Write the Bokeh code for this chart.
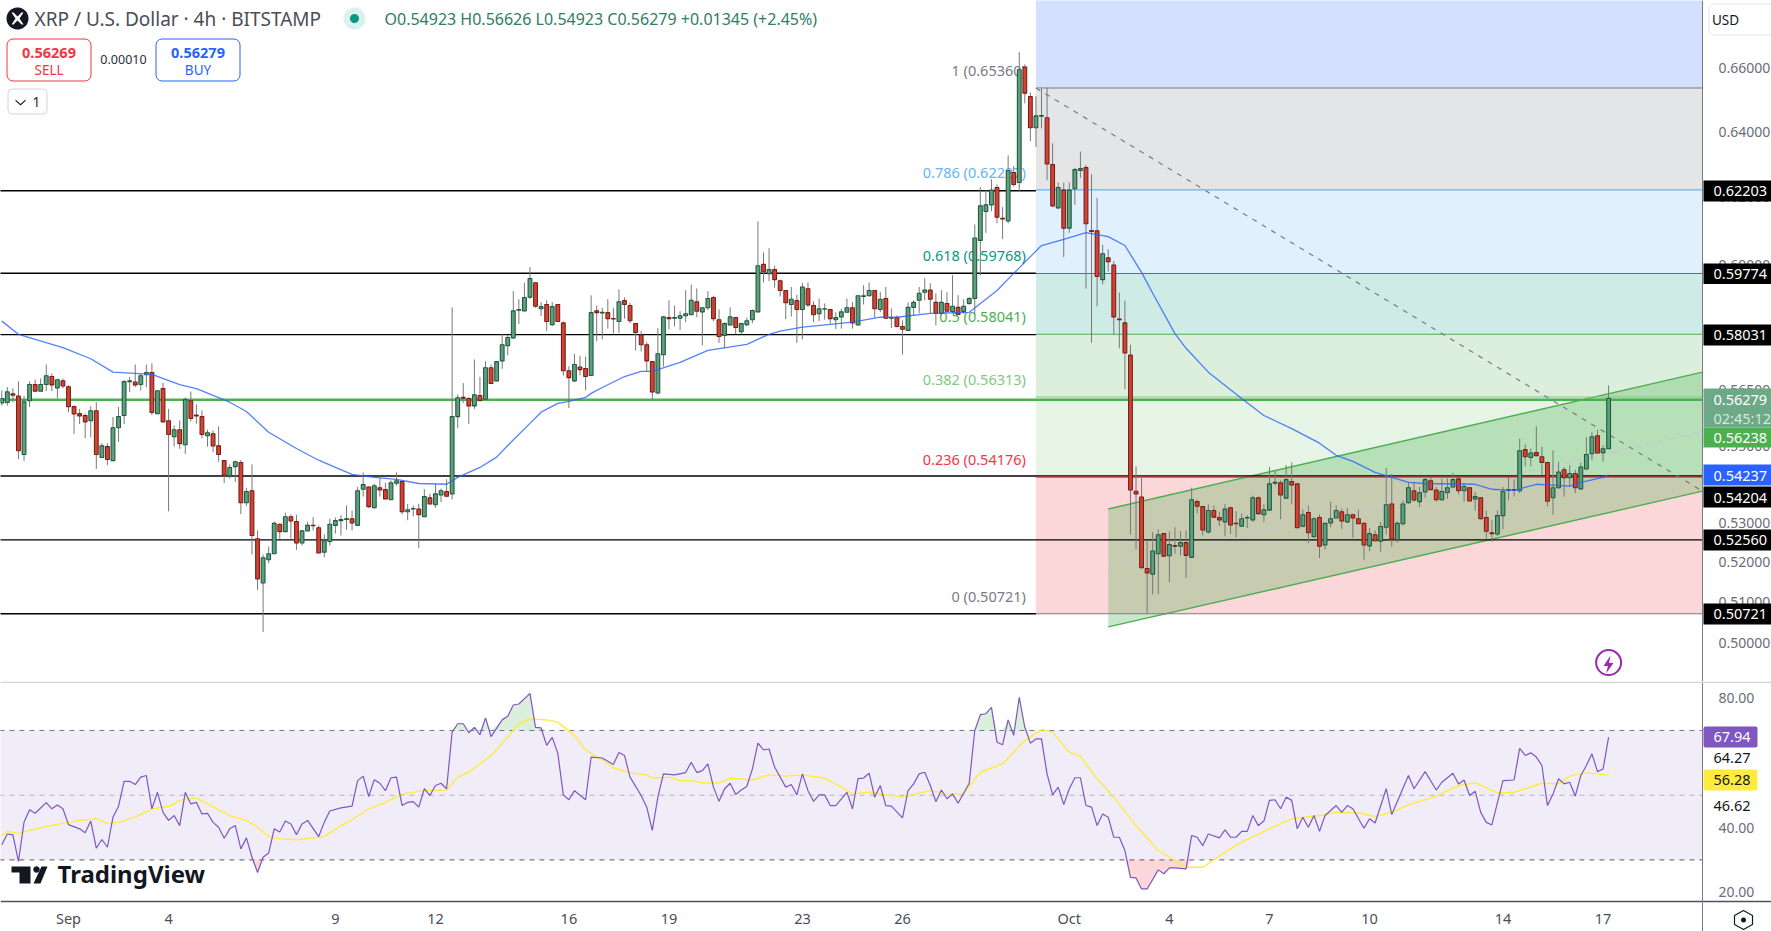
from bokeh.plotting import figure
from bokeh.layouts import column
from bokeh.core.properties import value
from bokeh.models import (Label, BoxAnnotation, PolyAnnotation, Range1d, FixedTicker,
                          PrintfTickFormatter)
from bokeh.embed import file_html
from bokeh.resources import INLINE
import numpy as np

highs = [
.5649,.5658,.5655,.5674,.5634,.5674,.5679,.5682,.5720,.5695,
.5681,.5681,.5663,.5608,.5599,.5586,.5606,.5617,.5507,.5507,
.5577,.5604,.5677,.5686,.5720,.5695,.5720,.5723,.5649,.5670,
.5599,.5554,.5568,.5630,.5646,.5611,.5595,.5543,.5541,.5552,
.5462,.5451,.5461,.5462,.5390,.5451,.5280,.5219,.5239,.5303,
.5298,.5326,.5321,.5320,.5280,.5302,.5314,.5293,.5270,.5310,
.5313,.5319,.5344,.5331,.5392,.5430,.5393,.5400,.5415,.5403,
.5409,.5430,.5406,.5348,.5344,.5348,.5386,.5374,.5399,.5388,
.5412,.5880,.5638,.5669,.5631,.5734,.5686,.5729,.5720,.5729,
.5805,.5802,.5926,.5903,.5950,.5995,.5950,.5895,.5900,.5895,
.5888,.5840,.5715,.5750,.5744,.5742,.5914,.5885,.5879,.5903,
.5879,.5931,.5908,.5893,.5836,.5813,.5782,.5728,.5821,.5854,
.5900,.5885,.5869,.5929,.5945,.5934,.5880,.5926,.5913,.5874,
.5838,.5880,.5851,.5834,.5851,.5874,.6129,.6038,.6050,.5999,
.5959,.5929,.5938,.5916,.5950,.5951,.5897,.5905,.5891,.5876,
.5866,.5876,.5905,.5895,.5914,.5943,.5951,.5929,.5924,.5938,
.5877,.5857,.5843,.5894,.5900,.5938,.5963,.5949,.5920,.5929,
.5923,.5972,.5915,.5903,.5909,.6120,.6231,.6222,.6255,.6239,
.6171,.6327,.6295,.6650,.6611,.6522,.6510,.6534,.6538,.6364,
.6245,.6245,.6245,.6289,.6339,.6298,.6270,.6199,.6060,.6047,
.6013,.5922,.5899,.5775,.5446,.5420,.5255,.5276,.5283,.5272,
.5278,.5288,.5278,.5280,.5390,.5359,.5341,.5347,.5344,.5328,
.5348,.5341,.5329,.5323,.5319,.5369,.5368,.5347,.5444,.5433,
.5409,.5449,.5456,.5401,.5334,.5344,.5313,.5321,.5299,.5354,
.5344,.5336,.5338,.5323,.5333,.5299,.5286,.5280,.5302,.5442,
.5426,.5304,.5357,.5405,.5404,.5392,.5420,.5418,.5392,.5413,
.5415,.5429,.5416,.5402,.5392,.5379,.5365,.5331,.5306,.5331,
.5392,.5418,.5412,.5519,.5504,.5493,.5552,.5498,.5458,.5488,
.5458,.5444,.5449,.5437,.5456,.5523,.5536,.5543,.5501,.56626]

body_tops = [
.5627,.5645,.5640,.5634,.5618,.5665,.5665,.5665,.5689,.5687,
.5678,.5675,.5659,.5605,.5586,.5581,.5594,.5594,.5500,.5498,
.5548,.5578,.5673,.5675,.5672,.5689,.5698,.5698,.5648,.5654,
.5567,.5543,.5543,.5624,.5621,.5582,.5578,.5535,.5532,.5500,
.5461,.5443,.5458,.5456,.5380,.5382,.5259,.5211,.5221,.5298,
.5296,.5315,.5315,.5303,.5279,.5293,.5293,.5287,.5254,.5296,
.5305,.5308,.5310,.5310,.5382,.5398,.5392,.5395,.5390,.5385,
.5403,.5408,.5406,.5333,.5336,.5335,.5367,.5364,.5374,.5382,
.5380,.5578,.5629,.5630,.5627,.5637,.5635,.5711,.5711,.5728,
.5775,.5795,.5870,.5874,.5908,.5962,.5950,.5882,.5888,.5882,
.5888,.5836,.5703,.5720,.5713,.5709,.5865,.5870,.5866,.5865,
.5848,.5896,.5899,.5885,.5834,.5802,.5775,.5728,.5750,.5853,
.5851,.5851,.5856,.5862,.5900,.5896,.5879,.5905,.5908,.5845,
.5834,.5853,.5851,.5834,.5842,.5871,.5999,.6003,.5988,.5988,
.5956,.5928,.5903,.5899,.5938,.5933,.5885,.5876,.5876,.5874,
.5851,.5867,.5879,.5879,.5913,.5913,.5928,.5928,.5903,.5905,
.5851,.5851,.5826,.5880,.5894,.5920,.5929,.5929,.5894,.5894,
.5891,.5883,.5880,.5883,.5905,.6080,.6175,.6178,.6222,.6230,
.6138,.6281,.6275,.6594,.6603,.6509,.6449,.6450,.6443,.6299,
.6230,.6222,.6222,.6284,.6287,.6290,.6102,.6101,.6034,.6022,
.6001,.5847,.5836,.5746,.5381,.5366,.5184,.5228,.5269,.5272,
.5244,.5242,.5249,.5249,.5359,.5354,.5341,.5331,.5331,.5313,
.5335,.5338,.5298,.5310,.5313,.5364,.5364,.5333,.5400,.5404,
.5403,.5411,.5406,.5400,.5320,.5326,.5310,.5313,.5298,.5310,
.5331,.5328,.5320,.5320,.5310,.5298,.5272,.5269,.5290,.5346,
.5348,.5298,.5348,.5390,.5382,.5377,.5411,.5408,.5384,.5380,
.5390,.5411,.5413,.5393,.5390,.5367,.5364,.5313,.5274,.5318,
.5380,.5385,.5385,.5487,.5490,.5481,.5482,.5471,.5456,.5390,
.5431,.5437,.5427,.5427,.5444,.5477,.5524,.5527,.5492,.56279]

body_bottoms = [
.5615,.5616,.5636,.5487,.5477,.5621,.5647,.5647,.5665,.5664,
.5656,.5661,.5605,.5585,.5580,.5564,.5567,.5477,.5469,.5464,
.5461,.5548,.5581,.5673,.5664,.5665,.5692,.5589,.5586,.5564,
.5530,.5524,.5506,.5503,.5573,.5580,.5530,.5527,.5500,.5477,
.5423,.5421,.5445,.5351,.5351,.5267,.5158,.5148,.5206,.5221,
.5277,.5277,.5304,.5248,.5248,.5279,.5292,.5223,.5225,.5252,
.5293,.5305,.5308,.5299,.5293,.5386,.5341,.5338,.5384,.5361,
.5359,.5402,.5328,.5328,.5335,.5320,.5315,.5348,.5346,.5371,
.5368,.5374,.5578,.5628,.5607,.5607,.5621,.5625,.5668,.5675,
.5730,.5772,.5794,.5872,.5870,.5909,.5883,.5876,.5840,.5831,
.5840,.5703,.5684,.5675,.5706,.5687,.5690,.5865,.5864,.5848,
.5847,.5840,.5888,.5842,.5809,.5775,.5730,.5645,.5642,.5747,
.5848,.5849,.5849,.5856,.5859,.5869,.5867,.5879,.5848,.5798,
.5801,.5830,.5823,.5811,.5831,.5845,.5867,.5982,.5976,.5959,
.5928,.5893,.5888,.5874,.5874,.5887,.5859,.5862,.5875,.5848,
.5845,.5853,.5866,.5836,.5830,.5911,.5913,.5876,.5874,.5849,
.5849,.5826,.5818,.5815,.5880,.5900,.5923,.5903,.5863,.5863,
.5869,.5868,.5860,.5868,.5891,.5905,.6073,.6158,.6178,.6141,
.6136,.6130,.6239,.6245,.6520,.6412,.6412,.6448,.6301,.6175,
.6169,.6109,.6109,.6226,.6281,.6122,.6099,.5968,.5959,.6011,
.5853,.5845,.5752,.5384,.5374,.5186,.5173,.5170,.5221,.5215,
.5216,.5240,.5240,.5217,.5212,.5342,.5281,.5276,.5314,.5307,
.5302,.5294,.5297,.5291,.5312,.5307,.5323,.5320,.5332,.5402,
.5371,.5363,.5397,.5287,.5291,.5274,.5264,.5240,.5243,.5299,
.5312,.5304,.5302,.5312,.5297,.5243,.5241,.5254,.5253,.5288,
.5258,.5257,.5297,.5351,.5358,.5354,.5379,.5385,.5359,.5359,
.5377,.5392,.5382,.5382,.5356,.5361,.5310,.5278,.5272,.5271,
.5318,.5383,.5384,.5382,.5471,.5469,.5474,.5456,.5355,.5364,
.5390,.5416,.5416,.5390,.5387,.5439,.5479,.5481,.5482,.54923]

lows = [
.5608,.5608,.5617,.5465,.5460,.5604,.5647,.5647,.5647,.5647,
.5627,.5655,.5590,.5532,.5558,.5520,.5523,.5439,.5467,.5449,
.5461,.5510,.5558,.5644,.5658,.5649,.5658,.5582,.5586,.5563,
.5329,.5498,.5492,.5479,.5565,.5559,.5520,.5498,.5483,.5458,
.5402,.5414,.5405,.5322,.5342,.5219,.5131,.5028,.5197,.5221,
.5259,.5276,.5259,.5231,.5242,.5279,.5280,.5222,.5212,.5242,
.5272,.5267,.5282,.5280,.5293,.5367,.5338,.5336,.5367,.5360,
.5359,.5396,.5321,.5306,.5316,.5235,.5314,.5347,.5338,.5353,
.5367,.5360,.5547,.5615,.5558,.5599,.5620,.5625,.5666,.5674,
.5708,.5746,.5791,.5833,.5869,.5904,.5879,.5855,.5813,.5827,
.5839,.5690,.5601,.5672,.5690,.5649,.5690,.5785,.5790,.5820,
.5806,.5808,.5848,.5835,.5759,.5756,.5701,.5624,.5638,.5715,
.5818,.5826,.5816,.5838,.5858,.5852,.5773,.5872,.5841,.5780,
.5765,.5829,.5804,.5804,.5826,.5835,.5866,.5951,.5955,.5936,
.5911,.5847,.5854,.5780,.5790,.5881,.5838,.5841,.5845,.5834,
.5819,.5820,.5866,.5820,.5829,.5888,.5911,.5851,.5866,.5849,
.5821,.5823,.5748,.5815,.5857,.5863,.5900,.5863,.5829,.5857,
.5863,.5864,.5859,.5862,.5887,.5859,.5971,.6095,.6159,.6123,
.6077,.6123,.6233,.6219,.6488,.6371,.6353,.6410,.6252,.6171,
.6165,.6024,.6095,.6178,.6259,.5933,.5780,.5883,.5945,.5982,
.5804,.5765,.5652,.5270,.5232,.5184,.5074,.5120,.5120,.5214,
.5150,.5221,.5217,.5160,.5212,.5323,.5267,.5272,.5313,.5291,
.5265,.5271,.5262,.5291,.5286,.5302,.5321,.5302,.5331,.5396,
.5309,.5361,.5347,.5286,.5288,.5248,.5263,.5210,.5232,.5288,
.5312,.5284,.5299,.5261,.5296,.5206,.5227,.5252,.5226,.5270,
.5239,.5249,.5293,.5348,.5353,.5340,.5364,.5383,.5354,.5357,
.5361,.5390,.5373,.5354,.5355,.5331,.5308,.5257,.5251,.5266,
.5283,.5357,.5367,.5376,.5446,.5446,.5472,.5423,.5342,.5320,
.5387,.5367,.5392,.5376,.5385,.5437,.5462,.5479,.5458,.54923]

directions = ("GGRRGGRGGR" "GRRRRRGRGR" "GGGGRGGRGR" "RGRGRRRGRR" "RGGRGRRGGG"
              "RGRRGGRRGG" "GGGRGGRGRR" "GGRGGRGRGG" "RGGRRGRGRG" "GGGGGGRGRG"
              "RRRGRRGRGR" "RGRRRRRRGG" "RGGGGRGGRR" "GGRGGGGRGR" "RRGRGRRGGR"
              "GGGRGGGRGR" "GRRGGGGRRG" "RGRGGGGGGR" "RGRGRRGGRR" "GRGGGRRRGR"
              "RRRRRRRGGR" "GRGRGRRGRR" "GRRGGGRGGG" "RGRRGRGRGG" "GRGRRRGRGG"
              "RGGGRGGRRG" "GGRGRGRRRG" "GGRGRGRRRG" "GRGRGGGRGG")
first_candle = -12   # candle index of the first entry; index 0 = 1 Sep 00:00, 6 candles a day

ma_idx = [-12,-9,-1,4,8,15,20,23,29,32,36,41,42,45,48,51,55,59,63,68,70,74,77,79,83,85,88,90,93,94,
          96,100,103,105,110,115,122,126,128,132,137,141,146,149,155,162,167,170,175,179,183,187,190,
          193,195,199,201,205,211,215,220,225,228,231,235,238,241,244,253,256,260,264,270,272,276,277]
ma_price = [.5841,.5804,.5767,.5736,.5699,.5693,.5665,.5654,.5617,.5592,.5536,.5493,.5485,.5462,.5443,
            .5425,.5417,.5412,.5401,.5399,.5417,.5443,.5470,.5501,.5560,.5590,.5614,.5619,.5630,.5641,
            .5657,.5687,.5701,.5701,.5726,.5759,.5776,.5804,.5813,.5824,.5832,.5838,.5852,.5852,.5863,
            .5866,.5928,.5977,.6058,.6076,.6096,.6084,.6058,.5980,.5920,.5806,.5765,.5699,.5627,.5581,
            .5546,.5507,.5475,.5459,.5430,.5417,.5404,.5401,.5399,.5386,.5383,.5399,.5394,.5404,.5417,.54237]

rsi_idx = [-12,-11,-10,-9,-8,-7,-6,-4,-3,-2,-1,0,2,3,4,5,6,7,8,9,10,11,12,13,14,15,16,17,18,19,20,21,22,23,24,25,
           26,27,28,29,30,31,32,33,34,35,36,37,38,39,40,41,42,43,45,46,47,49,51,52,53,54,55,56,57,58,59,60,61,62,
           63,64,65,66,67,68,69,70,71,72,73,74,75,76,78,79,80,81,83,84,85,86,87,88,89,90,91,93,94,96,98,99,100,101,
           103,104,105,106,107,109,111,112,113,114,115,116,117,118,119,120,121,122,123,124,125,126,127,129,130,131,
           132,133,134,135,136,137,138,140,141,142,143,144,145,146,147,148,150,151,152,153,154,155,156,157,158,159,
           160,162,163,164,165,166,167,168,169,170,171,172,173,174,175,176,177,178,179,180,181,182,183,184,185,186,
           187,188,189,190,191,192,193,194,196,197,198,199,201,202,203,204,205,207,208,209,210,211,212,213,214,215,
           216,217,218,219,220,221,222,223,224,225,226,228,229,230,231,233,234,235,237,238,241,242,244,246,247,249,
           250,251,252,253,254,255,256,258,260,261,262,263,264,265,266,267,268,269,270,271,272,273,274,275,276,277]
rsi_val = [34.7,38.0,37.7,29.5,41.6,45.5,44.4,47.7,45.8,47.0,45.8,40.9,39.6,38.4,42.0,33.6,36.3,33.9,43.2,46.6,
           54.3,54.3,53.3,55.6,56.1,45.8,50.9,44.7,42.2,43.7,40.6,50.9,47.3,47.8,44.2,44.4,41.6,40.1,36.7,39.6,
           40.6,33.4,36.8,30.8,26.1,30.8,32.1,39.6,38.6,42.0,41.1,37.8,41.1,42.2,37.2,41.6,45.1,46.1,46.6,54.5,
           55.9,49.6,54.8,53.7,51.4,55.4,55.6,46.8,47.8,48.0,46.3,52.0,49.9,53.0,53.7,52.0,69.5,72.1,72.1,69.3,
           71.0,68.7,73.9,68.1,73.3,74.4,77.9,78.2,81.5,71.0,70.8,65.4,67.9,63.0,50.1,48.6,51.4,48.6,61.8,61.5,
           59.5,63.2,62.3,55.6,49.9,46.3,39.1,49.4,56.6,56.3,57.0,60.2,57.0,57.6,59.7,52.5,48.1,52.0,53.7,50.2,
           51.6,52.7,58.1,66.1,64.0,64.3,58.7,52.5,53.3,50.1,56.6,51.4,48.1,50.1,50.1,46.8,46.8,50.9,45.8,55.1,
           55.3,56.8,49.4,53.0,46.8,46.6,43.0,51.4,53.5,56.6,57.1,53.0,48.0,51.6,48.9,50.4,47.5,53.7,70.0,74.9,
           75.2,77.2,66.4,65.6,73.3,68.5,80.3,71.0,66.1,67.4,67.4,56.6,50.1,52.5,47.1,52.0,55.4,55.4,46.8,46.3,
           40.6,44.2,43.2,37.0,37.0,32.9,24.6,24.4,21.0,21.0,26.9,25.7,27.5,27.5,27.2,37.5,37.0,34.4,38.0,36.8,
           39.3,37.0,37.0,38.8,38.8,43.7,40.6,42.0,48.4,48.6,45.8,49.4,48.4,39.6,43.2,40.1,43.7,38.8,43.7,46.8,
           44.7,46.8,45.8,39.8,42.7,41.4,52.0,44.0,56.1,52.0,57.3,51.6,54.0,56.8,53.5,54.7,49.9,51.2,44.7,41.6,
           40.8,54.5,54.7,64.5,62.3,63.1,61.8,59.2,46.8,50.4,55.1,53.5,54.0,49.7,56.1,59.2,62.8,57.3,58.1,67.94]

rsi_ma_idx = [-12,-11,-9,-7,-4,-1,2,5,7,9,12,15,18,20,23,25,29,32,34,36,38,41,46,49,51,54,57,60,64,68,70,72,76,79,
              81,83,86,88,91,93,96,98,101,104,105,108,110,112,114,117,119,123,126,129,132,136,139,141,144,145,150,
              155,158,161,164,168,172,175,177,180,182,185,188,192,196,201,204,208,211,216,220,225,228,232,235,238,
              241,246,250,253,257,260,265,268,270,273,277]
rsi_ma_val = [37.5,38.8,38.2,39.1,40.3,41.3,42.2,42.7,41.3,41.6,43.2,45.8,46.5,48.4,49.2,47.3,43.7,42.2,40.1,37.2,
              36.5,36.2,37.2,40.6,42.4,45.8,47.8,50.4,51.4,51.6,55.6,57.1,62.3,67.9,72.1,73.6,73.3,72.6,68.5,64.0,
              60.9,58.5,56.9,56.3,55.3,55.6,54.5,54.5,53.8,53.8,55.3,54.7,56.3,55.9,56.3,55.3,52.5,50.4,50.9,50.7,
              49.4,51.4,50.4,50.4,57.1,59.7,66.9,70.3,69.5,63.3,62.0,55.1,49.4,40.6,32.9,27.7,27.7,32.4,35.5,39.6,
              42.7,43.7,44.7,44.5,43.4,44.7,47.0,49.7,53.0,53.8,50.7,50.9,53.7,53.5,55.9,56.9,56.28]

fib_ratios = ["1", "0.786", "0.618", "0.5", "0.382", "0.236", "0"]
fib_prices = [0.65360, 0.62227, 0.59768, 0.58041, 0.56313, 0.54176, 0.50721]
fib_colors = ["#787b86", "#64b5f6", "#089981", "#4caf50", "#81c784", "#f23645", "#787b86"]
fib_top_extent = 0.72
left_levels = [0.62203, 0.59774, 0.58031, 0.50721]
full_levels = [0.54204, 0.52560]
green_level = 0.56238
price_ticks = [0.66, 0.64, 0.62, 0.60, 0.565, 0.55, 0.53, 0.52, 0.51, 0.50]
rsi_ticks = [80, 40, 20]
rsi_guides = [70, 50, 30]
date_ticks = {0: "Sep", 18: "4", 48: "9", 66: "12", 90: "16", 108: "19", 132: "23", 150: "26",
              180: "Oct", 198: "4", 216: "7", 234: "10", 258: "14", 276: "17"}
fib_start = 174
chan_x = [187, 293.88]
chan_upper = [0.5335, 0.5699]
chan_lower = [0.5040, 0.5381]
chan_mid = [0.5185, 0.5538]
trend_x = [174, 293.88]
trend_y = [0.6536, 0.5381]

FONT = "Noto Sans"
GREEN_F, GREEN_L = "#5f9f7e", "#1f5c40"
RED_F, RED_L = "#cf4433", "#7a1f1a"
AXIS_C = "#6a6d78"

# pixel geometry (window coordinates). The frames span the whole window because
# annotations are clipped to the frame; the axes are pinned inside with fixed_location.
PAGE_R, X_AXIS = 1771, 1702
P_B, R_B, PAGE_B = 681, 901, 931
PX_PER_CANDLE, X0 = 5.56, 68.0
x_range = Range1d((0 - X0) / PX_PER_CANDLE, (PAGE_R - X0) / PX_PER_CANDLE)
AXIS_X = (X_AXIS - X0) / PX_PER_CANDLE
XA = x_range.start - 2
RSI_AXIS_Y = 17.12

idx = np.arange(first_candle, first_candle + len(highs))
up = np.array([d == "G" for d in directions])
assert len(highs) == len(lows) == len(body_tops) == len(body_bottoms) == len(directions)
assert len(rsi_idx) == len(rsi_val) and len(rsi_ma_idx) == len(rsi_ma_val) and len(ma_idx) == len(ma_price)

# ---------------------------------------------------------------- price pane
p = figure(frame_width=PAGE_R, frame_height=P_B, y_axis_type="log", y_axis_location="right",
           x_range=x_range, y_range=Range1d(0.4909, 0.6818), output_backend="svg", toolbar_location=None,
           min_border_left=0, min_border_right=0, min_border_top=0, min_border_bottom=0,
           x_axis_location=None, outline_line_color=None)
p.grid.visible = False
ya = p.yaxis[0]
ya.fixed_location = AXIS_X
ya.ticker = FixedTicker(ticks=price_ticks)
ya.formatter = PrintfTickFormatter(format="%.5f")
ya.major_tick_line_color = None
ya.minor_tick_line_color = None
ya.axis_line_color = "#787b86"
ya.major_label_text_font = FONT
ya.major_label_text_font_size = "14px"
ya.major_label_text_color = AXIS_C
ya.major_label_standoff = 10

# fib zones
zone_edges = [fib_top_extent] + fib_prices
zone_colors = ["#2962ff", "#787b86", "#64b5f6", "#089981", "#4caf50", "#81c784", "#f23645"]
p.quad(left=fib_start, right=AXIS_X, top=zone_edges[:-1], bottom=zone_edges[1:],
       fill_color=zone_colors, fill_alpha=0.2, line_color=None)
# channel
p.patch(chan_x + chan_x[::-1], chan_upper + chan_lower[::-1], fill_color="#4caf50", fill_alpha=0.3, line_color=None)
p.line(chan_x, chan_upper, line_color="#4caf50", line_width=1.4)
p.line(chan_x, chan_lower, line_color="#4caf50", line_width=1.4)
p.line(chan_x, chan_mid, line_color="#c8c6d8", line_width=1.4, line_dash=[6, 6])
# horizontal levels
for lv in left_levels:
    p.segment(XA, lv, fib_start, lv, line_color="#000000", line_width=1.4)
for lv in full_levels:
    p.segment(XA, lv, AXIS_X, lv, line_color="#000000", line_width=1.4)
for lv, c in zip(fib_prices, fib_colors):
    p.segment(fib_start, lv, AXIS_X, lv, line_color=c, line_width=1.1)
p.segment(XA, green_level, AXIS_X, green_level, line_color="#4caf50", line_width=2.6)
p.line(trend_x, trend_y, line_color="#787b86", line_width=1.2, line_dash=[5, 6])
# fib labels
p.text(x=[fib_start - 1.8] * 7, y=fib_prices,
       text=[f"{r} ({v:.5f})" for r, v in zip(fib_ratios, fib_prices)],
       text_color=fib_colors, text_font=value(FONT), text_font_size="14.5px", text_align="right",
       text_baseline="bottom", y_offset=-8)
# candles
wick_high, wick_low = np.array(highs), np.array(lows)
top, bot = np.array(body_tops), np.array(body_bottoms)
p.segment(idx, wick_high, idx, wick_low, line_color="#787878", line_width=1)
p.vbar(idx[up], top=top[up], bottom=bot[up], width=0.68, fill_color=GREEN_F, line_color=GREEN_L, line_width=1.1)
p.vbar(idx[~up], top=top[~up], bottom=bot[~up], width=0.68, fill_color=RED_F, line_color=RED_L, line_width=1.1)
# moving average
p.line(ma_idx, ma_price, line_color="#2962ff", line_width=1.3, line_alpha=0.8)
# lightning icon
p.scatter([277], [0.4954], size=25, fill_color="#ffffff", line_color="#9c27b0", line_width=2)


def box(fig, oy, l, t, r, b, fill=None, line=None, lw=1, radius=0):
    fig.add_layout(BoxAnnotation(left=l, right=r, top=t - oy, bottom=b - oy,
                                 left_units="canvas", right_units="canvas", top_units="canvas", bottom_units="canvas",
                                 fill_color=fill, fill_alpha=1 if fill else 0, line_color=line, line_width=lw,
                                 line_alpha=1 if line else 0, border_radius=radius, level="overlay", editable=False))


def text(fig, oy, x, y, s, size, color, align="left", style="normal", font=FONT):
    fig.add_layout(Label(x=x, y=y - oy, x_units="canvas", y_units="canvas", text=s, text_font=font,
                         text_font_size=f"{size}px", text_color=color, text_align=align, text_baseline="middle",
                         text_font_style=style, level="overlay"))


def poly(fig, oy, xs, ys, fill, line=None, lw=1):
    fig.add_layout(PolyAnnotation(xs=list(xs), ys=[v - oy for v in ys], xs_units="canvas", ys_units="canvas",
                                  fill_color=fill, fill_alpha=1 if fill else 0, line_color=line, line_width=lw,
                                  line_alpha=1 if line else 0, level="overlay", editable=False))


def disc(fig, oy, cx, cy, rad, fill):
    a = np.linspace(0, 2 * np.pi, 36)
    poly(fig, oy, cx + rad * np.cos(a), cy + rad * np.sin(a), fill)


oy = 0
# header
disc(p, oy, 17, 18, 11, "#131722")
poly(p, oy, [11, 13, 17, 21, 23, 19, 23, 21, 17, 13, 11, 15], [12, 12, 16, 12, 12, 18, 24, 24, 20, 24, 24, 18], "#ffffff")
text(p, oy, 34, 18, "XRP / U.S. Dollar · 4h · BITSTAMP", 19, "#4a4d58")
disc(p, oy, 354, 18, 11, "#daf1ee")
disc(p, oy, 354, 18, 4.5, "#089981")
text(p, oy, 384, 18, "O0.54923 H0.56626 L0.54923 C0.56279 +0.01345 (+2.45%)", 16, "#2f7d62")
box(p, oy, 6.5, 38.5, 90.5, 80.5, fill="#ffffff", line="#f23645", radius=6)
text(p, oy, 48.5, 52, "0.56269", 14.5, "#f23645", "center", "bold")
text(p, oy, 48.5, 69, "SELL", 13.5, "#f23645", "center")
text(p, oy, 123, 59, "0.00010", 12.5, "#2a2e39", "center")
box(p, oy, 155.5, 38.5, 239.5, 80.5, fill="#ffffff", line="#2962ff", radius=6)
text(p, oy, 197.5, 52, "0.56279", 14.5, "#2962ff", "center", "bold")
text(p, oy, 197.5, 69, "BUY", 13.5, "#2962ff", "center")
box(p, oy, 7.5, 88.5, 46.5, 113.5, fill="#ffffff", line="#d1d4dc", radius=4)
poly(p, oy, [15, 20, 25, 25, 20, 15], [99, 103.5, 99, 100.5, 105, 100.5], "#131722")
text(p, oy, 36, 101, "1", 14.5, "#2a2e39", "center")
box(p, oy, 1708.5, 3.5, 1775, 34.5, fill="#ffffff", line="#e0e3eb", radius=5)
text(p, oy, 1725, 19, "USD", 13.5, "#131722", "center")
# bolt
poly(p, oy, [1610, 1603, 1607.5, 1605.5, 1613, 1608.5], [655, 665.5, 665.5, 673, 662.5, 662.5], "#9c27b0")
# price badges
badges = [(180, 201, "#000000", "0.62203", 190.5), (263, 283.5, "#000000", "0.59774", 273.5),
          (324, 345, "#000000", "0.58031", 334.5), (464, 485, "#2962ff", "0.54237", 475),
          (486, 507, "#000000", "0.54204", 497), (529, 550, "#000000", "0.52560", 539.5),
          (603, 624, "#000000", "0.50721", 613.5)]
box(p, oy, 1703, 388, 1775, 427, fill="#6da887")
text(p, oy, 1713, 399, "0.56279", 14.5, "#ffffff")
text(p, oy, 1713, 417, "02:45:12", 14.5, "#d5e8dc")
box(p, oy, 1703, 427, 1775, 447, fill="#4caf50")
text(p, oy, 1713, 437, "0.56238", 14.5, "#ffffff")
for t_, b_, c_, s_, y_ in badges:
    box(p, oy, 1703, t_, 1775, b_, fill=c_)
    text(p, oy, 1713, y_, s_, 14.5, "#ffffff")

# ---------------------------------------------------------------- RSI pane
r = figure(frame_width=PAGE_R, frame_height=PAGE_B - P_B, y_axis_location="right",
           x_range=x_range, y_range=Range1d(7.84, 85.17), output_backend="svg", toolbar_location=None,
           min_border_left=0, min_border_right=0, min_border_top=0, min_border_bottom=0,
           outline_line_color=None)
r.grid.visible = False
ya = r.yaxis[0]
ya.fixed_location = AXIS_X
ya.ticker = FixedTicker(ticks=rsi_ticks)
ya.formatter = PrintfTickFormatter(format="%.2f")
ya.major_tick_line_color = None
ya.minor_tick_line_color = None
ya.axis_line_color = "#787b86"
ya.major_label_text_font = FONT
ya.major_label_text_font_size = "14px"
ya.major_label_text_color = AXIS_C
ya.major_label_standoff = 10
xa = r.xaxis[0]
xa.fixed_location = RSI_AXIS_Y
xa.ticker = FixedTicker(ticks=list(date_ticks))
xa.major_label_overrides = {k: v for k, v in date_ticks.items()}
xa.major_tick_line_color = None
xa.minor_tick_line_color = None
xa.axis_line_color = "#50535e"
xa.axis_line_width = 1.5
xa.major_label_text_font = FONT
xa.major_label_text_font_size = "14.5px"
xa.major_label_text_color = "#4a4d58"
xa.major_label_standoff = 1

r.quad(left=XA, right=AXIS_X, top=rsi_guides[0], bottom=rsi_guides[2], fill_color="#7e57c2", fill_alpha=0.11, line_color=None)
for g, c in zip(rsi_guides, ["#787b86", "#b2b5be", "#787b86"]):
    r.line([XA, AXIS_X], [g, g], line_color=c, line_dash=[5, 5], line_width=1.1)
rv = np.array(rsi_val)
rx = np.array(rsi_idx)
r.varea(rx, y1=np.full(rv.shape, 70.0), y2=np.maximum(rv, 70.0), fill_color="#4caf50", fill_alpha=0.2)
r.varea(rx, y1=np.full(rv.shape, 30.0), y2=np.minimum(rv, 30.0), fill_color="#f23645", fill_alpha=0.2)
r.line(rsi_ma_idx, rsi_ma_val, line_color="#ffeb3b", line_width=1.4)
r.line(rsi_idx, rsi_val, line_color="#7e57c2", line_width=1.2)

oy = P_B
box(r, oy, 0, 681, 1775, 682.5, fill="#d1d4dc")
box(r, oy, 1703, 726, 1757, 747, fill="#7e57c2", radius=2)
text(r, oy, 1713, 736.5, "67.94", 14.5, "#ffffff")
text(r, oy, 1713, 757.5, "64.27", 14.5, "#131722")
box(r, oy, 1703, 769, 1757, 790, fill="#ffeb3b", radius=2)
text(r, oy, 1713, 779.5, "56.28", 14.5, "#131722")
text(r, oy, 1713, 805.5, "46.62", 14.5, "#131722")
# TradingView mark
poly(r, oy, [11, 30, 30, 19, 19, 11], [866, 866, 883, 883, 872, 872], "#131722")
poly(r, oy, [41, 47, 40, 33], [866, 866, 883, 883], "#131722")
disc(r, oy, 36, 869, 3.2, "#131722")
text(r, oy, 57, 873, "TradingView", 24, "#131722", style="bold")
# settings icon
poly(r, oy, [1743, 1752, 1752, 1743, 1734, 1734], [910, 915, 924, 929, 924, 915], None, "#131722", 1.2)
disc(r, oy, 1743, 919.5, 2.5, "#131722")

page = column(p, r, spacing=0)
open("out.html", "w").write(file_html(page, INLINE))
